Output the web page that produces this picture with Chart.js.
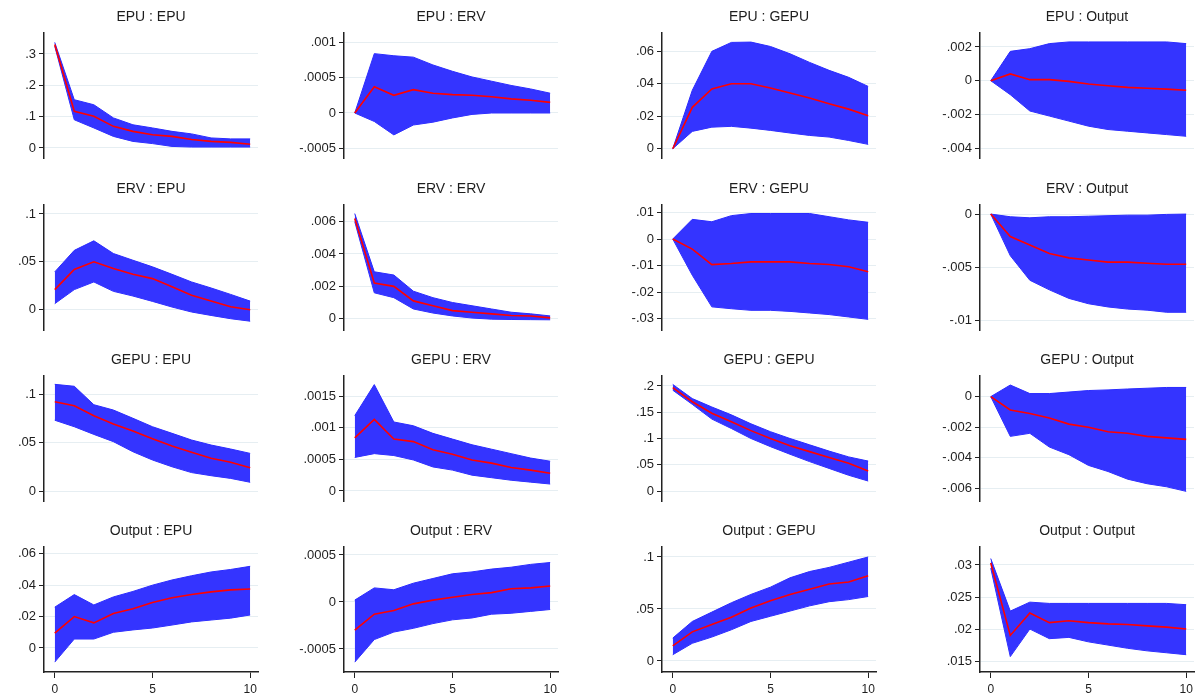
<!DOCTYPE html>
<html><head><meta charset="utf-8">
<script src="https://cdn.jsdelivr.net/npm/chart.js@4.4.1/dist/chart.umd.min.js"></script>
<style>
body{margin:0;background:#fff;width:1200px;height:700px;position:relative;overflow:hidden}
canvas{position:absolute}
</style></head><body>
<script>
// ---- data ----
const steps = [0,1,2,3,4,5,6,7,8,9,10];
const impulses = ["EPU","ERV","GEPU","Output"];
const responses = ["EPU","ERV","GEPU","Output"];
const xTicks = [0,5,10];
const xTickLabels = ["0","5","10"];

// row EPU
const irf_EPU_EPU = [.33,.117,.101,.069,.053,.042,.037,.027,.021,.018,.012];
const hi_EPU_EPU  = [.337,.154,.138,.096,.074,.064,.053,.045,.032,.029,.029];
const lo_EPU_EPU  = [.325,.09,.064,.037,.021,.014,.005,.003,.003,.003,.003];
const irf_EPU_ERV = [0,.00037,.00025,.00033,.00028,.00026,.00025,.00023,.0002,.00018,.00015];
const hi_EPU_ERV  = [0,.00084,.00081,.00079,.00068,.00059,.00051,.00045,.00039,.00034,.00028];
const lo_EPU_ERV  = [0,-.00012,-.00031,-.00017,-.00013,-.00007,-.00002,0,0,0,0];
const irf_EPU_GEPU = [0,.0255,.0368,.040,.040,.0374,.0343,.0312,.0277,.0244,.0203];
const hi_EPU_GEPU  = [0,.036,.060,.0655,.0657,.063,.0585,.0532,.0483,.044,.0384];
const lo_EPU_GEPU  = [0,.0107,.0133,.0138,.0127,.0113,.0097,.0082,.0072,.0051,.0027];
const irf_EPU_Output = [0,.0004,.00006,.00006,-.00004,-.0002,-.0003,-.0004,-.00045,-.0005,-.00057];
const hi_EPU_Output  = [0,.00174,.0019,.0022,.0023,.0023,.0023,.0023,.0023,.0023,.0022];
const lo_EPU_Output  = [0,-.00083,-.0018,-.0021,-.0024,-.0027,-.0029,-.003,-.0031,-.0032,-.0033];
// row ERV
const irf_ERV_EPU = [.021,.042,.050,.043,.037,.0325,.024,.015,.009,.003,0];
const hi_ERV_EPU  = [.0395,.062,.072,.0587,.0517,.0448,.037,.029,.0227,.016,.009];
const lo_ERV_EPU  = [.0063,.021,.029,.0192,.0143,.0087,.0028,-.0024,-.006,-.0094,-.012];
const irf_ERV_ERV = [.0062,.0022,.002,.0011,.0008,.0005,.0004,.0003,.0002,.00017,.00005];
const hi_ERV_ERV  = [.0065,.0029,.0027,.0017,.0013,.001,.0008,.0006,.0004,.0003,.00017];
const lo_ERV_ERV  = [.006,.0016,.0013,.0006,.00035,.00017,.00004,-.00003,-.00005,-.00006,-.00007];
const irf_ERV_GEPU = [0,-.0038,-.0096,-.0092,-.0086,-.0086,-.0086,-.0092,-.0096,-.0104,-.0123];
const hi_ERV_GEPU  = [0,.0074,.0065,.0088,.0096,.0096,.0096,.0096,.0084,.0072,.0063];
const lo_ERV_GEPU  = [0,-.0136,-.0255,-.0262,-.0268,-.0268,-.0272,-.0278,-.0284,-.0293,-.0302];
const irf_ERV_Output = [0,-.0021,-.0029,-.0037,-.0041,-.0043,-.0045,-.0045,-.0046,-.0047,-.0047];
const hi_ERV_Output  = [0,-.00025,-.00035,-.00025,-.00025,-.0002,-.00015,-.0001,-.0001,-.00003,0];
const lo_ERV_Output  = [0,-.0039,-.0062,-.0071,-.0079,-.0084,-.0087,-.0089,-.009,-.0092,-.0092];
// row GEPU
const irf_GEPU_EPU = [.092,.088,.0777,.069,.062,.054,.0464,.040,.0337,.0296,.024];
const hi_GEPU_EPU  = [.11,.108,.089,.0835,.075,.0663,.0595,.0526,.0474,.0433,.0388];
const lo_GEPU_EPU  = [.073,.0663,.0584,.0509,.0405,.032,.025,.019,.0158,.013,.009];
const irf_GEPU_ERV = [.00084,.00113,.00082,.00078,.00065,.00058,.00049,.00044,.00037,.00033,.00028];
const hi_GEPU_ERV  = [.00119,.00168,.00109,.00103,.00091,.00082,.00073,.00066,.00059,.00052,.00047];
const lo_GEPU_ERV  = [.00053,.00059,.00056,.00049,.00038,.00033,.00025,.00021,.00017,.00014,.00011];
const irf_GEPU_GEPU = [.197,.170,.148,.132,.115,.100,.086,.075,.064,.053,.038];
const hi_GEPU_GEPU  = [.203,.176,.160,.145,.128,.113,.100,.088,.076,.065,.057];
const lo_GEPU_GEPU  = [.192,.165,.137,.119,.100,.0845,.070,.056,.043,.030,.019];
const irf_GEPU_Output = [0,-.00087,-.0011,-.0014,-.0018,-.002,-.0023,-.0024,-.0026,-.0027,-.0028];
const hi_GEPU_Output  = [0,.00076,.0002,.0002,.0003,.0004,.00044,.0005,.00055,.0006,.0006];
const lo_GEPU_Output  = [0,-.0026,-.0024,-.0033,-.0038,-.0045,-.0049,-.0054,-.0057,-.0059,-.0062];
// row Output
const irf_Output_EPU = [.0095,.020,.016,.022,.025,.029,.032,.034,.0357,.037,.0376];
const hi_Output_EPU  = [.026,.034,.0274,.0325,.036,.040,.0433,.046,.0484,.050,.052];
const lo_Output_EPU  = [-.009,.0057,.0057,.010,.0115,.0127,.0146,.0166,.0178,.019,.021];
const irf_Output_ERV = [-.0003,-.00013,-.00009,-.00002,.00002,.00005,.00008,.0001,.00014,.00015,.00017];
const hi_Output_ERV  = [.00002,.00015,.00013,.0002,.00025,.0003,.00032,.00035,.00037,.0004,.00042];
const lo_Output_ERV  = [-.00064,-.0004,-.00032,-.00028,-.00023,-.00019,-.00017,-.00013,-.00012,-.0001,-.00008];
const irf_Output_GEPU = [.0145,.028,.035,.042,.051,.058,.064,.069,.074,.076,.082];
const hi_Output_GEPU  = [.022,.038,.047,.056,.064,.071,.080,.086,.090,.095,.100];
const lo_Output_GEPU  = [.006,.017,.023,.030,.038,.043,.048,.053,.057,.059,.062];
const irf_Output_Output = [.0303,.019,.0225,.021,.0213,.021,.0208,.0207,.0205,.0203,.020];
const hi_Output_Output  = [.031,.0228,.0242,.024,.024,.024,.024,.024,.024,.024,.0238];
const lo_Output_Output  = [.0295,.0157,.020,.0185,.0187,.018,.0175,.017,.0166,.0163,.016];

// y tick values and labels per panel (row-major)
const yTicks = [
  [0,.1,.2,.3],[-.0005,0,.0005,.001],[0,.02,.04,.06],[-.004,-.002,0,.002],
  [0,.05,.1],[0,.002,.004,.006],[-.03,-.02,-.01,0,.01],[-.01,-.005,0],
  [0,.05,.1],[0,.0005,.001,.0015],[0,.05,.1,.15,.2],[-.006,-.004,-.002,0],
  [0,.02,.04,.06],[-.0005,0,.0005],[0,.05,.1],[.015,.02,.025,.03]
];
const yTickLabels = [
  ["0",".1",".2",".3"],["-.0005","0",".0005",".001"],["0",".02",".04",".06"],["-.004","-.002","0",".002"],
  ["0",".05",".1"],["0",".002",".004",".006"],["-.03","-.02","-.01","0",".01"],["-.01","-.005","0"],
  ["0",".05",".1"],["0",".0005",".001",".0015"],["0",".05",".1",".15",".2"],["-.006","-.004","-.002","0"],
  ["0",".02",".04",".06"],["-.0005","0",".0005"],["0",".05",".1"],[".015",".02",".025",".03"]
];
const yRange = [
  [-.032,.367],[-.000637,.001132],[-.0057,.0713],[-.00459,.00283],
  [-.0212,.1094],[-.0007,.00703],[-.0342,.0128],[-.01086,.00085],
  [-.0103,.1186],[-.000158,.001816],[-.019,.219],[-.00683,.00135],
  [-.0153,.0643],[-.000745,.000585],[-.0106,.1096],[.0133,.0328]
];

// ---- layout ----
const FONT = '"Liberation Sans", Arial, sans-serif';
const colX = [44, 344, 662, 980];
const rowTop = [33, 205, 376, 547];
const PH = 125, PW = 214, LEFT = 60, TOP = 30, RIGHT = 16;

const titlePlugin = {
  id: 'ptitle',
  afterDraw(chart, args, opts) {
    const ctx = chart.ctx, a = chart.chartArea;
    ctx.save();
    ctx.font = '14px ' + FONT;
    ctx.fillStyle = '#1e1e1e';
    ctx.textAlign = 'center';
    ctx.textBaseline = 'middle';
    ctx.fillText(opts.text, (a.left + a.right) / 2, a.top - 16);
    ctx.restore();
  }
};

const pts = arr => arr.map((v, i) => ({x: steps[i], y: v}));

let idx = 0;
impulses.forEach((imp, r) => {
  responses.forEach((res, c) => {
    const i = idx++;
    const key = imp + '_' + res;
    const irf = eval('irf_' + key), hi = eval('hi_' + key), lo = eval('lo_' + key);
    const bottomRow = r === 3;
    const XH = 30;
    const W = LEFT + PW + RIGHT;
    const H = TOP + PH + (bottomRow ? XH : 12);
    const cv = document.createElement('canvas');
    cv.width = W; cv.height = H;
    cv.style.left = (colX[c] - LEFT) + 'px';
    cv.style.top = (rowTop[r] - TOP) + 'px';
    cv.style.width = W + 'px'; cv.style.height = H + 'px';
    document.body.appendChild(cv);
    const ticksY = yTicks[i], labsY = yTickLabels[i];
    new Chart(cv, {
      type: 'line',
      data: { datasets: [
        { data: pts(hi), fill: '+1', backgroundColor: '#3434ff', borderColor: '#2a2aff', borderWidth: 1, pointRadius: 0, tension: 0, order: 2 },
        { data: pts(lo), fill: false, borderColor: '#2a2aff', borderWidth: 1, pointRadius: 0, tension: 0, order: 2 },
        { data: pts(irf), fill: false, borderColor: '#ff0000', borderWidth: 1.6, pointRadius: 0, tension: 0, order: 1 }
      ]},
      options: {
        responsive: false, animation: false, devicePixelRatio: 1,
        layout: { padding: { top: TOP, right: RIGHT, bottom: bottomRow ? 0 : 12, left: 0 } },
        plugins: { legend: { display: false }, tooltip: { enabled: false }, title: { display: false }, ptitle: { text: imp + ' : ' + res } },
        scales: {
          x: {
            type: 'linear', min: -0.55, max: 10.4, display: bottomRow,
            afterBuildTicks: s => { s.ticks = xTicks.map(v => ({value: v})); },
            afterFit: s => { s.height = bottomRow ? XH : 0; },
            ticks: { callback: (v, k) => xTickLabels[k], font: { family: FONT, size: 12 }, color: '#1e1e1e', padding: 4, maxRotation: 0, autoSkip: false },
            grid: { display: true, drawOnChartArea: false, drawTicks: true, tickLength: 6, tickColor: '#222' },
            border: { display: true, color: '#222', width: 1.5 }
          },
          y: {
            type: 'linear', min: yRange[i][0], max: yRange[i][1],
            afterBuildTicks: s => { s.ticks = ticksY.map(v => ({value: v})); },
            afterFit: s => { s.width = LEFT; },
            ticks: { callback: (v, k) => labsY[k], font: { family: FONT, size: 13 }, color: '#1e1e1e', padding: 3, autoSkip: false },
            grid: { color: '#e6eef2', lineWidth: 1, drawTicks: true, tickLength: 5, tickColor: '#222' },
            border: { display: true, color: '#222', width: 1.5 }
          }
        }
      },
      plugins: [titlePlugin]
    });
  });
});
</script>
</body></html>
